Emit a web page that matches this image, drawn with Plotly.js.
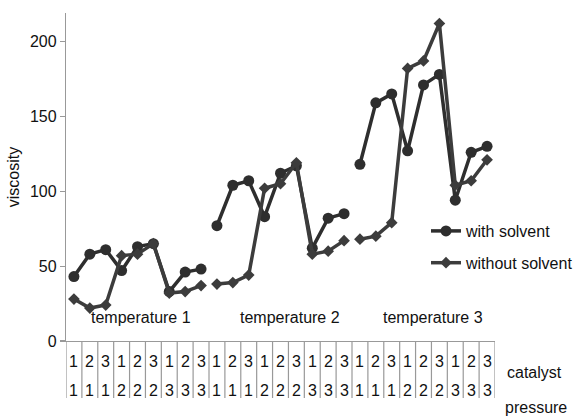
<!DOCTYPE html>
<html>
<head>
<meta charset="utf-8">
<script src="https://cdn.plot.ly/plotly-3.0.1.min.js"></script>
<style>html,body{margin:0;padding:0;background:#fff}#chart{width:575px;height:416px}</style>
</head>
<body>
<div id="chart"></div>
<script>
// ---- data ----
const temperatures = ["temperature 1", "temperature 2", "temperature 3"];
const catalyst = ["1","2","3","1","2","3","1","2","3"];
const pressure = ["1","1","1","2","2","2","3","3","3"];
const withSolventT1 = [43, 58, 61, 47, 63, 65, 33, 46, 48];
const withSolventT2 = [77, 104, 107, 83, 112, 117, 62, 82, 85];
const withSolventT3 = [118, 159, 165, 127, 171, 178, 94, 126, 130];
const withoutSolventT1 = [28, 22, 24, 57, 58, 65, 32, 33, 37];
const withoutSolventT2 = [38, 39, 44, 102, 105, 119, 58, 60, 67];
const withoutSolventT3 = [68, 70, 79, 182, 187, 212, 104, 107, 121];
const seriesNames = ["with solvent", "without solvent"];

// ---- build ----
const withS = [withSolventT1, withSolventT2, withSolventT3];
const withoutS = [withoutSolventT1, withoutSolventT2, withoutSolventT3];
const nPer = catalyst.length;
const nTot = nPer * temperatures.length;
const fontFam = "Liberation Sans, Arial, sans-serif";
const traces = [];
function addSeries(groups, name, color, symbol, size, lg) {
  groups.forEach((vals, g) => {
    traces.push({
      type: "scatter", mode: "lines+markers",
      x: vals.map((v, i) => g * nPer + i),
      y: vals,
      name: name, legendgroup: lg, showlegend: g === 0,
      line: {color: color, width: 3.5},
      marker: {symbol: symbol, size: size, color: color},
      hoverinfo: "x+y"
    });
  });
}
addSeries(withS, seriesNames[0], "#2e2e2e", "circle", 11, "a");
addSeries(withoutS, seriesNames[1], "#3c3c3c", "diamond", 9, "b");

const plotH = 328; // px of plot area height for paper conversions
const plotW = 429;
const shapes = [];
for (let k = 0; k <= nTot; k++) {
  shapes.push({type: "line", xref: "x", yref: "paper", x0: k - 0.5, x1: k - 0.5,
    y0: 0, y1: -57 / plotH, line: {color: "#999", width: 1.2}});
}
const annotations = [];
for (let k = 0; k < nTot; k++) {
  annotations.push({xref: "x", yref: "paper", x: k, y: -20 / plotH, text: catalyst[k % nPer],
    showarrow: false, font: {family: fontFam, size: 16, color: "#111"}, yanchor: "middle"});
  annotations.push({xref: "x", yref: "paper", x: k, y: -49 / plotH, text: pressure[k % nPer],
    showarrow: false, font: {family: fontFam, size: 16, color: "#111"}, yanchor: "middle"});
}
const tempX = [4.2, 13.6, 22.6];
temperatures.forEach((t, g) => {
  annotations.push({xref: "x", yref: "y", x: tempX[g], y: 16, text: t, showarrow: false,
    font: {family: fontFam, size: 16, color: "#111"}, yanchor: "middle"});
});
annotations.push({xref: "paper", yref: "paper", x: (505 - 66) / plotW, y: -31 / plotH, xanchor: "left", yanchor: "middle",
  text: "catalyst", showarrow: false, font: {family: fontFam, size: 16, color: "#111"}});
annotations.push({xref: "paper", yref: "paper", x: (503 - 66) / plotW, y: -66 / plotH, xanchor: "left", yanchor: "middle",
  text: "pressure", showarrow: false, font: {family: fontFam, size: 16, color: "#111"}});

const layout = {
  width: 575, height: 416,
  margin: {l: 66, r: 80, t: 13, b: 75, autoexpand: false},
  paper_bgcolor: "#fff", plot_bgcolor: "#fff",
  font: {family: fontFam, size: 16, color: "#111"},
  showlegend: true,
  legend: {x: (426 - 66) / plotW, y: (341 - 214) / plotH, xanchor: "left", yanchor: "top",
    traceorder: "grouped", tracegroupgap: 8, bgcolor: "rgba(0,0,0,0)",
    font: {family: fontFam, size: 16, color: "#111"}},
  xaxis: {range: [-0.5, nTot - 0.5], showticklabels: false, ticks: "", showgrid: false, zeroline: false,
    showline: true, linecolor: "#999", linewidth: 1.2, fixedrange: true, automargin: false},
  yaxis: {range: [0, 219], tickvals: [0, 50, 100, 150, 200], ticks: "outside", ticklen: 5,
    tickcolor: "#999", tickwidth: 1.2, showgrid: false, zeroline: false, showline: true, automargin: false,
    linecolor: "#999", linewidth: 1.2, tickfont: {family: fontFam, size: 16, color: "#111"},
    title: {text: "viscosity", standoff: 6, font: {family: fontFam, size: 16, color: "#111"}}},
  shapes: shapes,
  annotations: annotations
};
Plotly.newPlot("chart", traces, layout, {displayModeBar: false, staticPlot: true});
</script>
</body>
</html>
